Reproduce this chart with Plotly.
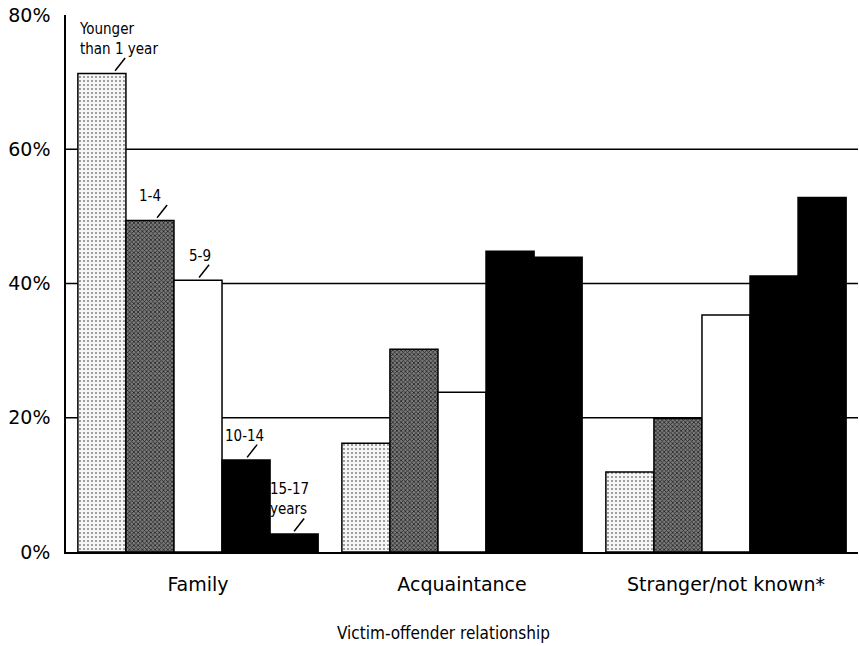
import plotly.graph_objects as go

# relationship categories and age groups
categories = ["Family", "Acquaintance", "Stranger/not known*"]
age_groups = ["Younger<br>than 1 year", "1-4", "5-9", "10-14", "15-17<br>years"]

under_1 = [71.3, 16.2, 11.9]
age_1_4 = [49.4, 30.2, 19.9]
age_5_9 = [40.5, 23.8, 35.3]
age_10_14 = [13.7, 44.8, 41.1]
age_15_17 = [2.7, 43.9, 52.8]

series = [under_1, age_1_4, age_5_9, age_10_14, age_15_17]
y_ticks = [0, 20, 40, 60, 80]
grid_vals = [20, 40, 60]

# look of each age group (bg colour, pattern shape, pattern colour)
styles = [
    ("#f6f6f6", ".", "#8a8a8a", 4, 0.22),
    ("#7a7a7a", "x", "#222222", 3, 0.45),
    ("#ffffff", "", "#ffffff", 4, 0.1),
    ("#000000", "", "#000000", 4, 0.1),
    ("#000000", "", "#000000", 4, 0.1),
]

BARGAP = 0.09
n = len(series)
bw = (1 - BARGAP) / n

fig = go.Figure()
for i, vals in enumerate(series):
    bg, shape, fg, size, sol = styles[i]
    fig.add_trace(go.Bar(
        x=categories, y=vals, name=age_groups[i],
        marker=dict(
            color=bg,
            line=dict(color="black", width=1.5),
            pattern=dict(shape=shape, fgcolor=fg, bgcolor=bg, size=size,
                         solidity=sol, fillmode="replace"),
        ),
        hoverinfo="skip",
    ))

# horizontal rules behind the bars
for g in grid_vals:
    fig.add_shape(type="line", xref="paper", yref="y", x0=0, x1=1, y0=g, y1=g,
                  line=dict(color="black", width=1.5), layer="below")

# age-group labels with small leader strokes on the Family group
narrow = "DejaVu Sans Condensed, Liberation Sans Narrow, Arial Narrow, sans-serif"
lbl_font = dict(family=narrow, size=15, color="black")
start_shift = [0.05, 0.027, 0.004, 0.004, 0.0]
text_shift = [17, 0, 2, -2, -5]
for i, vals in enumerate(series):
    cx = -0.5 + BARGAP / 2 + bw * (i + 0.5)
    v = vals[0]
    x0 = cx + start_shift[i]
    y0 = v + 0.4
    y1 = v + 2.3
    fig.add_shape(type="line", xref="x", yref="y", x0=x0, y0=y0, x1=x0 + 0.038, y1=y1,
                  line=dict(color="black", width=1.5))
    fig.add_annotation(x=cx, y=y1, xref="x", yref="y", text=age_groups[i],
                       showarrow=False, xanchor="center", yanchor="bottom",
                       xshift=text_shift[i], yshift=-2, align="left", font=lbl_font)

# axis title
fig.add_annotation(x=0.5, y=0, xref="paper", yref="paper", text="Victim-offender relationship",
                   showarrow=False, xanchor="center", yanchor="middle", xshift=-19, yshift=-81,
                   font=dict(family=narrow, size=17, color="black"))

fig.update_layout(
    width=859, height=646,
    margin=dict(l=66, r=1, t=15, b=94),
    paper_bgcolor="white", plot_bgcolor="white",
    barmode="group", bargap=BARGAP, bargroupgap=0,
    showlegend=False,
    font=dict(family="DejaVu Sans, Arial, sans-serif", color="black"),
)
fig.update_xaxes(
    showline=True, linecolor="black", linewidth=1.5, automargin=False,
    showgrid=False, ticks="", ticklabelstandoff=14,
    tickfont=dict(size=19, family="DejaVu Sans, Arial, sans-serif"),
    range=[-0.5, 2.5],
)
fig.update_yaxes(
    range=[0, 80], tickvals=y_ticks, ticktext=[f"{t}%" for t in y_ticks],
    showline=True, linecolor="black", linewidth=1.5, automargin=False,
    showgrid=False, zeroline=False, ticks="", ticklabelstandoff=10,
    tickfont=dict(size=19, family="DejaVu Sans, Arial, sans-serif"),
)

# drop the browser's default page margin so the figure sits at the top-left corner
fig.write_html("out.html", config={"displayModeBar": False},
               post_script="document.body.style.margin='0px';")
